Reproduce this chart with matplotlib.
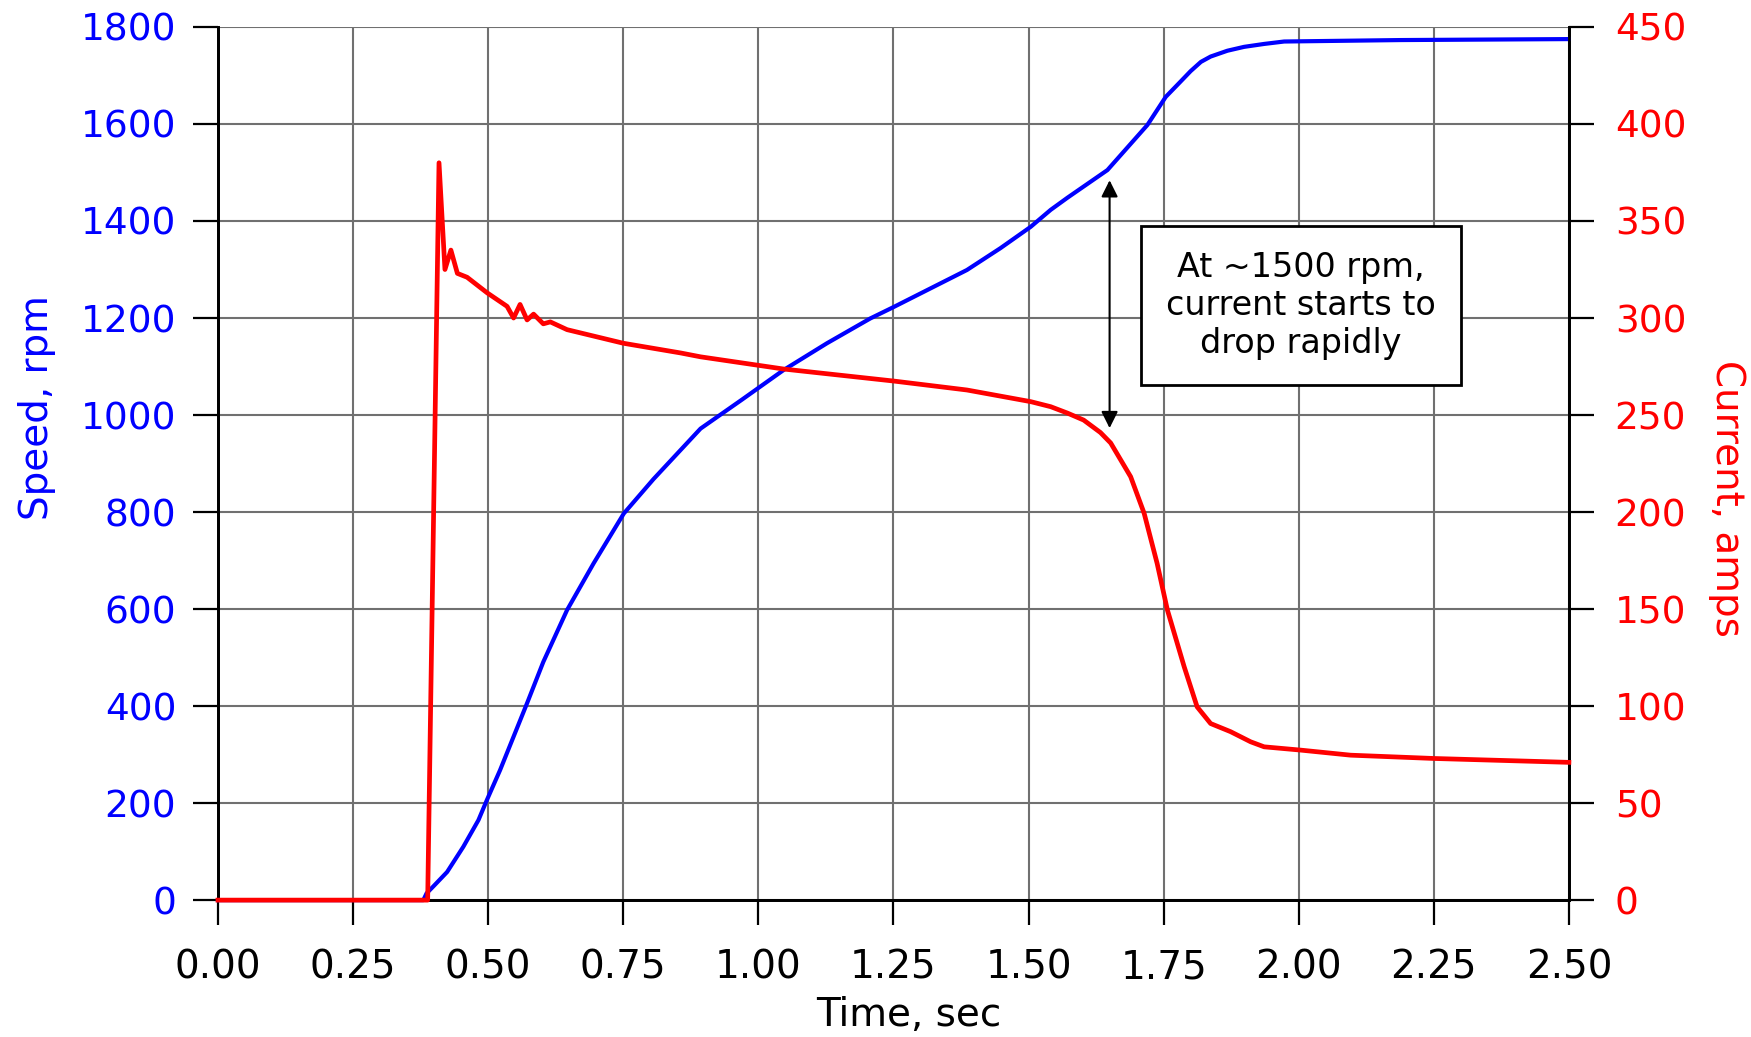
import numpy as np
import matplotlib.pyplot as plt

# motor start-up: speed (rpm) and current (amps) against time (s)
t_speed = [0.0, 0.38, 0.386, 0.40, 0.424, 0.454, 0.482, 0.4975, 0.522, 0.547,
           0.572, 0.602, 0.646, 0.695, 0.751, 0.806, 0.893, 0.970, 1.047,
           1.127, 1.207, 1.251, 1.386, 1.448, 1.504, 1.541, 1.572, 1.646,
           1.72, 1.754, 1.781, 1.80, 1.819, 1.837, 1.868, 1.899, 1.936,
           1.973, 2.189, 2.50]
speed = [0, 0, 14, 30, 58, 110, 165, 206, 268, 337,
         406, 491, 598, 694, 797, 868, 972, 1032, 1093,
         1148, 1199, 1223, 1299, 1344, 1388, 1423, 1448, 1505,
         1598, 1656, 1687, 1709, 1728, 1739, 1751, 1759, 1765,
         1770, 1773, 1775]

t_current = [0.0, 0.388, 0.409, 0.420, 0.431, 0.443, 0.461, 0.498, 0.535, 0.547,
             0.559, 0.572, 0.584, 0.602, 0.615, 0.646, 0.75, 0.856, 0.893,
             1.047, 1.251, 1.386, 1.504, 1.541, 1.572, 1.602, 1.633, 1.652,
             1.689, 1.714, 1.738, 1.757, 1.788, 1.812, 1.837, 1.874, 1.911,
             1.936, 2.004, 2.096, 2.25, 2.50]
current = [0, 0, 380, 325, 335, 323, 321, 313, 306, 300,
           307, 299, 302, 297, 298, 294, 287, 282, 280,
           273.7, 267.5, 262.9, 256.9, 254.3, 251, 247.4, 241, 235.6,
           218.2, 199.3, 173.5, 149.5, 120.3, 99.6, 91, 86.8, 81.6,
           79, 77.3, 74.7, 73, 71]

x_ticks = [0.0, 0.25, 0.5, 0.75, 1.0, 1.25, 1.5, 1.75, 2.0, 2.25, 2.5]
speed_ticks = [0, 200, 400, 600, 800, 1000, 1200, 1400, 1600, 1800]
current_ticks = [0, 50, 100, 150, 200, 250, 300, 350, 400, 450]

plt.rcParams['font.family'] = ['DejaVu Sans']

fig = plt.figure(figsize=(17.51, 10.37), dpi=100)
ax = fig.add_axes([0.1245, 0.132, 0.7715, 0.842])
ax2 = ax.twinx()

ax.plot(t_speed, speed, color='#0000ff', lw=3.0, clip_on=False, zorder=3)
ax2.plot(t_current, current, color='#ff0000', lw=3.4, clip_on=False, zorder=3)

ax.set_xlim(0, 2.5)
ax.set_ylim(0, 1800)
ax2.set_ylim(0, 450)
ax.set_xticks(x_ticks)
ax.set_xticklabels(["%.2f" % v for v in x_ticks])
ax.set_yticks(speed_ticks)
ax2.set_yticks(current_ticks)

ax.grid(True, color='#707070', lw=1.5)
ax.set_axisbelow(True)

for a in (ax, ax2):
    a.spines['top'].set_visible(False)
    for s in ('left', 'right', 'bottom'):
        a.spines[s].set_linewidth(2)
        a.spines[s].set_color('black')

ax.tick_params(axis='x', direction='out', length=18, width=1.6,
               labelsize=28, pad=17)
ax.tick_params(axis='y', direction='out', length=18, width=1.6,
               labelsize=27, pad=12, labelcolor='#0000ff')
ax2.tick_params(axis='y', direction='out', length=18, width=1.6,
                labelsize=27, pad=15, labelcolor='#ff0000')

ax.set_xlabel("Time, sec", fontsize=28, va='center')
ax.xaxis.set_label_coords(0.511, -0.132)
ax.set_ylabel("Speed, rpm", fontsize=28, color='#0000ff', va='center')
ax.yaxis.set_label_coords(-0.134, 0.564)
ax2.set_ylabel("Current, amps", fontsize=28, color='#ff0000',
               rotation=270, va='center')
ax2.yaxis.set_label_coords(1.117, 0.460)

ax.annotate("", xy=(1.65, 1484), xytext=(1.65, 973),
            arrowprops=dict(arrowstyle='<|-|>', color='black', lw=1.5,
                            mutation_scale=25, shrinkA=0, shrinkB=0), zorder=4)
ax.text(2.004, 1226, "At ~1500 rpm,\ncurrent starts to\ndrop rapidly",
        fontsize=24, ha='center', va='center', zorder=5,
        bbox=dict(boxstyle='square,pad=0.75', fc='white', ec='black', lw=2))

fig.savefig("out.png", dpi=100)
